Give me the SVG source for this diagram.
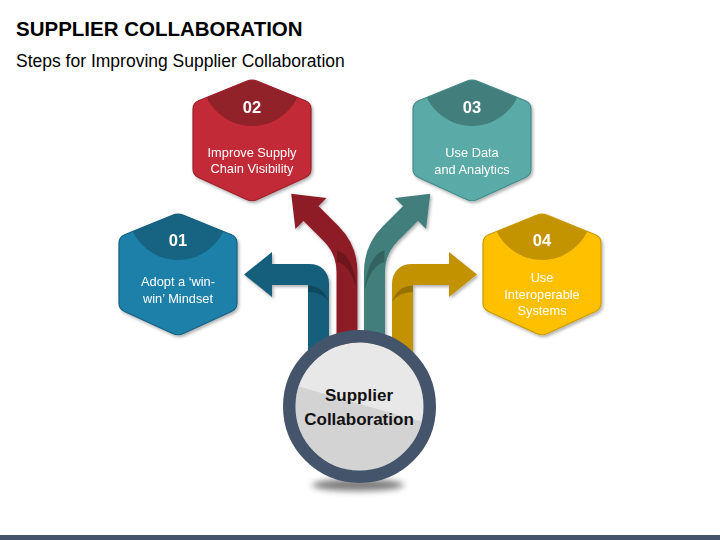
<svg xmlns="http://www.w3.org/2000/svg" width="720" height="540" viewBox="0 0 720 540">
<defs>
<style>
.title{font-family:"Liberation Sans",Arial,sans-serif;font-weight:bold;font-size:20.5px;fill:#000}
.sub{font-family:"Liberation Sans",Arial,sans-serif;font-size:17.5px;fill:#000}
.num{font-family:"Liberation Sans",Arial,sans-serif;font-weight:bold;font-size:16.5px;fill:#fff;text-anchor:middle}
.lbl{font-family:"Liberation Sans",Arial,sans-serif;font-size:12.8px;fill:#fff;text-anchor:middle}
.ctr{font-family:"Liberation Sans",Arial,sans-serif;font-weight:bold;font-size:17px;fill:#111;text-anchor:middle}
.shaft{fill:none;stroke-width:21;stroke-linejoin:round}
.fold{fill:#000;opacity:.22}
</style>
<path id="hex" d="M-5.56,2.26 Q0,0 5.56,2.26 L53.44,21.74 Q59,24 59,30 L59,90 Q59,96 53.55,98.5 L5.45,120.5 Q0,123 -5.45,120.5 L-53.55,98.5 Q-59,96 -59,90 L-59,30 Q-59,24 -53.44,21.74 Z"/>
<clipPath id="hexclip"><use href="#hex"/></clipPath>
<clipPath id="innerclip"><circle cx="359.5" cy="406.5" r="64"/></clipPath>
<filter id="sh" x="-20%" y="-20%" width="140%" height="140%"><feDropShadow dx="1.5" dy="2" stdDeviation="1.5" flood-color="#000" flood-opacity="0.3"/></filter>
<filter id="blur" x="-30%" y="-100%" width="160%" height="300%"><feGaussianBlur stdDeviation="3"/></filter>
</defs>
<rect width="720" height="540" fill="#fff"/>
<g id="header">
<text class="title" x="16" y="35.5">SUPPLIER COLLABORATION</text>
<text class="sub" x="16" y="66.5">Steps for Improving Supplier Collaboration</text>
</g>
<g id="connectors" filter="url(#sh)">
<g id="arrow-01">
<path class="shaft" stroke="#175F7C" d="M318.5,365 L318.5,284 Q318.5,274.5 309,274.5 L270,274.5"/>
<polygon fill="#175F7C" points="272,252 244,274.5 272,297"/>
<path class="fold" d="M308,285.5 Q324,286 329,302 Q322,292 308,292 Z"/>
</g>
<g id="arrow-02">
<path class="shaft" stroke="#8E1F28" d="M347,365 L347,272 Q347,249.5 331,233.5 L308,210.5"/>
<polygon fill="#8E1F28" points="326.6,197.9 291.2,193.7 295.4,229.1"/>
<path class="fold" d="M337,250 Q354,256 357,290 Q350,265 337,262 Z"/>
</g>
<g id="arrow-03">
<path class="shaft" stroke="#427F7C" d="M374.5,365 L374.5,272 Q374.5,249.5 390.5,233.5 L413.5,210.5"/>
<polygon fill="#427F7C" points="394.9,197.9 430.3,193.7 426.1,229.1"/>
<path class="fold" d="M384.5,250 Q367.5,256 364.5,290 Q371.5,265 384.5,262 Z"/>
</g>
<g id="arrow-04">
<path class="shaft" stroke="#C29200" d="M402.5,365 L402.5,284 Q402.5,274.5 412,274.5 L451,274.5"/>
<polygon fill="#C29200" points="449,252 477,274.5 449,297"/>
<path class="fold" d="M413,285.5 Q397,286 392,302 Q399,292 413,292 Z"/>
</g>
</g>
<g id="node-01" transform="translate(178,213)" filter="url(#sh)">
<use href="#hex" fill="#1D80A8"/>
<circle cx="0" cy="-3" r="50" fill="#176482" clip-path="url(#hexclip)"/>
<use href="#hex" fill="none" stroke="#166080" stroke-width="1.2"/>
<text class="num" x="0" y="33">01</text>
<text class="lbl" x="0" y="73">Adopt a ‘win-</text>
<text class="lbl" x="0" y="90">win’ Mindset</text>
</g>
<g id="node-02" transform="translate(252,79)" filter="url(#sh)">
<use href="#hex" fill="#C22A37"/>
<circle cx="0" cy="-3" r="50" fill="#922029" clip-path="url(#hexclip)"/>
<use href="#hex" fill="none" stroke="#9A222C" stroke-width="1.2"/>
<text class="num" x="0" y="33.5">02</text>
<text class="lbl" x="0" y="77.7">Improve Supply</text>
<text class="lbl" x="0" y="94.3">Chain Visibility</text>
</g>
<g id="node-03" transform="translate(472,79)" filter="url(#sh)">
<use href="#hex" fill="#5AABA8"/>
<circle cx="0" cy="-3" r="50" fill="#437E7B" clip-path="url(#hexclip)"/>
<use href="#hex" fill="none" stroke="#448A87" stroke-width="1.2"/>
<text class="num" x="0" y="33.5">03</text>
<text class="lbl" x="0" y="78">Use Data</text>
<text class="lbl" x="0" y="95">and Analytics</text>
</g>
<g id="node-04" transform="translate(542,213)" filter="url(#sh)">
<use href="#hex" fill="#FFC000"/>
<circle cx="0" cy="-3" r="50" fill="#C49400" clip-path="url(#hexclip)"/>
<use href="#hex" fill="none" stroke="#C99A00" stroke-width="1.2"/>
<text class="num" x="0" y="33">04</text>
<text class="lbl" x="0" y="68.5">Use</text>
<text class="lbl" x="0" y="85.5">Interoperable</text>
<text class="lbl" x="0" y="102">Systems</text>
</g>
<g id="node-center">
<ellipse cx="358" cy="485" rx="46" ry="6" fill="#444" opacity=".7" filter="url(#blur)"/>
<circle cx="359.5" cy="406.5" r="64" fill="#D3D3D3"/>
<polygon clip-path="url(#innerclip)" fill="#E8E8E8" points="290,330 430,330 430,424 290,384"/>
<circle cx="359.5" cy="406.5" r="70.25" fill="none" stroke="#44546A" stroke-width="12.5"/>
<text class="ctr" x="359" y="401">Supplier</text>
<text class="ctr" x="359" y="425">Collaboration</text>
</g>
<rect id="footer-bar" x="0" y="535" width="720" height="5" fill="#44546A"/>
</svg>
